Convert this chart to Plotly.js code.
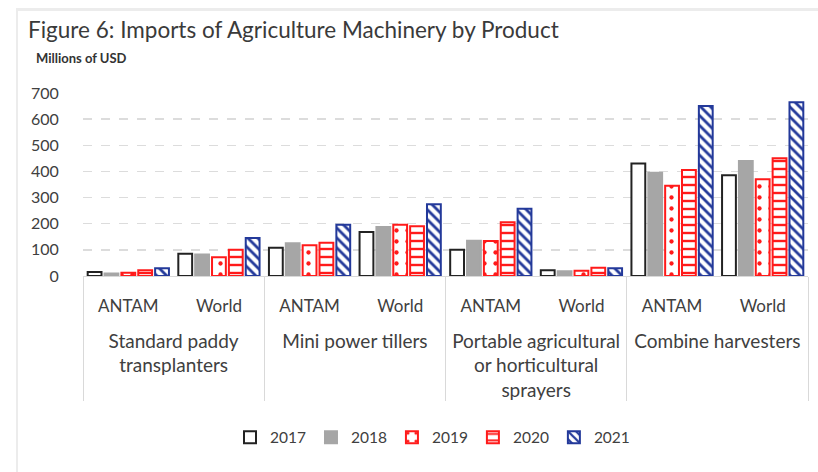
<!DOCTYPE html>
<html>
<head>
<meta charset="utf-8">
<script src="https://cdn.plot.ly/plotly-3.0.1.min.js"></script>
<style>
  html, body { margin: 0; padding: 0; background: #ffffff; }
  #wrap { position: relative; width: 818px; height: 472px; overflow: hidden; }
  #chart { position: absolute; left: 0; top: 0; width: 818px; height: 472px; }
  .frameTop { position: absolute; left: 17px; top: 8px; width: 801px; height: 3px; background: #ececec; }
  .frameLeft { position: absolute; left: 16px; top: 8px; width: 2px; height: 464px; background: #ececec; }
</style>
</head>
<body>
<div id="wrap">
  <div id="chart"></div>
  <div class="frameTop"></div>
  <div class="frameLeft"></div>
</div>
<script>
// ---- Data ----
const products = [
  "Standard paddy<br>transplanters",
  "Mini power tillers",
  "Portable agricultural<br>or horticultural<br>sprayers",
  "Combine harvesters"
];
const regions = ["ANTAM", "World"];
const years = ["2017", "2018", "2019", "2020", "2021"];

// values per year, ordered: Paddy ANTAM, Paddy World, Tillers ANTAM, Tillers World,
// Sprayers ANTAM, Sprayers World, Combine ANTAM, Combine World
const v2017 = [15, 85, 108, 168, 100, 22, 430, 385];
const v2018 = [10, 82, 125, 187, 135, 18, 395, 440];
const v2019 = [12, 72, 118, 196, 134, 20, 345, 370];
const v2020 = [22, 100, 127, 190, 206, 32, 405, 450];
const v2021 = [30, 145, 196, 274, 257, 30, 650, 665];

const yTicks = [0, 100, 200, 300, 400, 500, 600, 700];

// ---- Build multicategory x ----
const xOuter = [], xInner = [];
products.forEach(p => regions.forEach(r => {
  xOuter.push(p);
  xInner.push('<span style="font-size:17px">' + r + '</span><br>\u00a0');
}));
const x = [xOuter, xInner];

const RED = "#ff1a1a", BLUE = "#23399a", BLACK = "#222222", GRAY = "#a6a6a6";

const styles = [
  { color: "#ffffff", line: BLACK, pattern: { shape: "" } },
  { color: GRAY, line: GRAY, pattern: { shape: "" } },
  { color: "#ffffff", line: RED, pattern: { shape: ".", fgcolor: RED, bgcolor: "#ffffff", size: 11, solidity: 0.12, fillmode: "replace" } },
  { color: "#ffffff", line: RED, pattern: { shape: "-", fgcolor: RED, bgcolor: "#ffffff", size: 8, solidity: 0.3, fillmode: "replace" } },
  { color: "#ffffff", line: BLUE, pattern: { shape: "\\", fgcolor: BLUE, bgcolor: "#ffffff", size: 7, solidity: 0.4, fillmode: "replace" } }
];
const series = [v2017, v2018, v2019, v2020, v2021];

const data = series.map((vals, i) => ({
  type: "bar",
  name: years[i],
  x: x,
  y: vals,
  marker: {
    color: styles[i].color,
    line: { color: styles[i].line, width: 2 },
    pattern: styles[i].pattern
  },
  hoverinfo: "x+y+name"
}));

const layout = {
  width: 818,
  height: 472,
  margin: { l: 83, r: 10, t: 93, b: 196 },
  paper_bgcolor: "#ffffff",
  plot_bgcolor: "#ffffff",
  font: { family: "Lato, 'Open Sans', sans-serif", color: "#404040", size: 15 },
  title: {
    text: "Figure 6: Imports of Agriculture Machinery by Product",
    font: { family: "Lato, sans-serif", size: 22.5, color: "#3a3a3a" },
    xref: "container", x: 28 / 818, xanchor: "left",
    yref: "container", y: 1 - 30 / 472, yanchor: "middle"
  },
  barmode: "group",
  bargap: 0.07,
  bargroupgap: 0.18,
  showlegend: true,
  legend: {
    orientation: "h",
    x: (252 - 83 - 22) / 725, xanchor: "left",
    y: -0.79, yanchor: "top",
    font: { size: 15.5, color: "#404040" },
    itemwidth: 30,
    traceorder: "normal"
  },
  xaxis: {
    type: "multicategory",
    showline: true,
    linecolor: "#d9d9d9",
    linewidth: 1,
    dividercolor: "#d9d9d9",
    dividerwidth: 1,
    showdividers: true,
    ticks: "",
    ticklabelstandoff: 12,
    tickfont: { size: 19, color: "#404040" },
    showgrid: false,
    zeroline: false
  },
  yaxis: {
    range: [0, 700],
    tickvals: yTicks,
    ticktext: yTicks.map(String),
    showgrid: true,
    gridcolor: "#dcdcdc",
    griddash: "dash",
    gridwidth: 1.5,
    zeroline: false,
    showline: false,
    ticks: "outside",
    ticklen: 20,
    tickcolor: "rgba(0,0,0,0)",
    tickfont: { size: 16, color: "#404040" }
  },
  annotations: [{
    text: "<b>Millions of USD</b>",
    xref: "paper", yref: "paper",
    x: (34 - 83) / 725, xanchor: "left",
    y: (276 - 58) / 183, yanchor: "middle",
    showarrow: false,
    font: { size: 13, color: "#333333", family: "Lato, sans-serif" }
  }]
};

Plotly.newPlot("chart", data, layout, { displayModeBar: false, staticPlot: true });
</script>
</body>
</html>
